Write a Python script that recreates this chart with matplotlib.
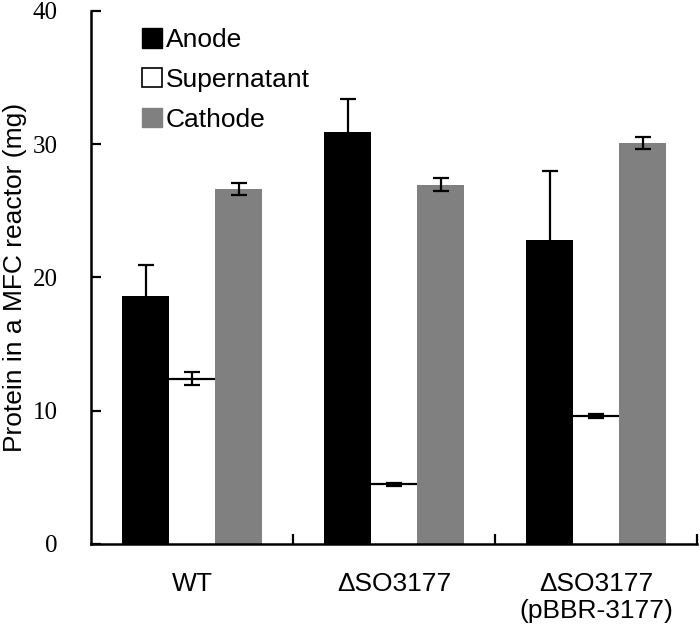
import numpy as np
import matplotlib
matplotlib.use('Agg')
from matplotlib import pyplot as plt
from matplotlib.patches import Patch

# values
strains = ['WT', '\u0394SO3177', '\u0394SO3177\n(pBBR-3177)']
anode = [18.6, 30.9, 22.8]
anode_err = [2.3, 2.5, 5.2]
supernatant = [12.4, 4.46, 9.56]
supernatant_err = [0.5, 0.12, 0.15]
cathode = [26.6, 26.95, 30.1]
cathode_err = [0.45, 0.5, 0.45]
series_names = ['Anode', 'Supernatant', 'Cathode']
yticks = [0, 10, 20, 30, 40]

sans = 'Liberation Sans'
serif = 'Liberation Serif'
fs = 19

fig = plt.figure(figsize=(7.0, 6.31), dpi=100)
ax = fig.add_axes([0.13, 0.138, 0.866, 0.845])

x = np.arange(len(strains)) + 0.5
w = 0.23
err_kw = dict(ecolor='black', elinewidth=1.6, capsize=5.5, capthick=1.6)

ax.bar(x - w, anode, w, color='black', edgecolor='none', zorder=2)
# only the upper half of the anode error is visible above the black bar
ax.errorbar(x - w, anode, yerr=anode_err, uplims=False, fmt='none', zorder=1, **err_kw)
ax.bar(x, supernatant, w, color='white', edgecolor='none',
       yerr=supernatant_err, error_kw=err_kw, zorder=2)
ax.hlines(supernatant, x - w / 2, x + w / 2, color='black', lw=1.6, zorder=3)
ax.bar(x + w, cathode, w, color='#808080', edgecolor='none',
       yerr=cathode_err, error_kw=err_kw, zorder=2)

ax.set_xlim(0, 3)
ax.set_ylim(0, 40)
ax.set_yticks(yticks)
ax.set_yticklabels([str(t) for t in yticks], fontfamily=serif, fontsize=18)
ax.tick_params(axis='y', direction='in', length=7, width=1.6, pad=24)

ax.set_xticks([1, 2, 3])
ax.set_xticklabels([])
ax.tick_params(axis='x', which='major', direction='in', length=7, width=1.6)
ax.set_xticks(x, minor=True)
ax.set_xticklabels(strains, minor=True, fontfamily=sans, fontsize=fs)
ax.tick_params(axis='x', which='minor', length=0, pad=20)

for s in ['top', 'right']:
    ax.spines[s].set_visible(False)
for s in ['left', 'bottom']:
    ax.spines[s].set_linewidth(1.8)
    ax.spines[s].set_zorder(4)

ax.set_ylabel('Protein in a MFC reactor (mg)', fontfamily=sans, fontsize=fs, labelpad=4)

handles = [Patch(facecolor='black', edgecolor='black'),
           Patch(facecolor='white', edgecolor='black', linewidth=1.2),
           Patch(facecolor='#808080', edgecolor='#808080')]
ax.legend(handles, series_names, loc='upper left', bbox_to_anchor=(0.045, 1.012),
          frameon=False, prop={'family': sans, 'size': fs},
          handlelength=0.75, handleheight=0.75, handletextpad=0.15, labelspacing=0.6)

fig.savefig('out.png', dpi=100)
